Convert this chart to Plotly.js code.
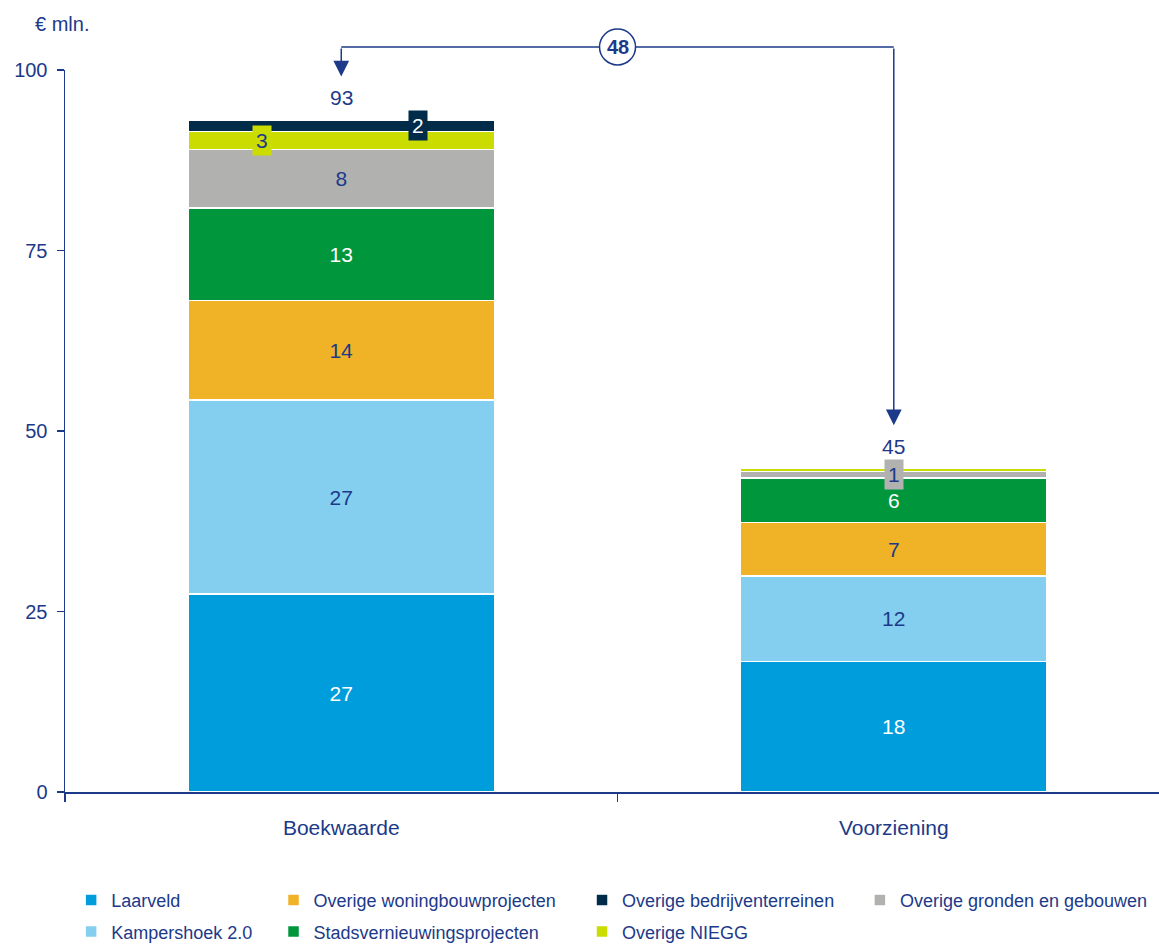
<!DOCTYPE html>
<html>
<head>
<meta charset="utf-8">
<script src="https://cdn.plot.ly/plotly-3.0.1.min.js"></script>
<style>html,body{margin:0;padding:0;background:#fff;}#chart{width:1159px;height:944px;}</style>
</head>
<body>
<div id="chart"></div>
<script>
// ---- data (values in € mln.) ----
var categories = ['Boekwaarde', 'Voorziening'];
var laarveld = [27.4, 18.1];
var kampershoek = [26.9, 11.8];
var woningbouw = [13.8, 7.4];
var stadsvernieuwing = [12.8, 6.2];
var gronden = [8.1, 0.9];
var niegg = [2.5, 0.4];
var bedrijven = [1.6, 0.0];
var yTicks = [0, 25, 50, 75, 100];
var unitLabel = '€ mln.';

// ---- styling ----
var NAVY = '#1c3a89';
var FONT = 'Liberation Sans, Arial, sans-serif';
var series = [
  {name: 'Laarveld', y: laarveld, color: '#009ddc', text: '#ffffff', legend: 'legend', rank: 1},
  {name: 'Kampershoek 2.0', y: kampershoek, color: '#84cfef', text: NAVY, legend: 'legend', rank: 2},
  {name: 'Overige woningbouwprojecten', y: woningbouw, color: '#f0b226', text: NAVY, legend: 'legend2', rank: 3},
  {name: 'Stadsvernieuwingsprojecten', y: stadsvernieuwing, color: '#00963c', text: '#ffffff', legend: 'legend2', rank: 4},
  {name: 'Overige gronden en gebouwen', y: gronden, color: '#b1b2b0', text: NAVY, legend: 'legend4', rank: 7, boxDx: 0},
  {name: 'Overige NIEGG', y: niegg, color: '#cbdc00', text: NAVY, legend: 'legend3', rank: 6, boxDx: -0.143},
  {name: 'Overige bedrijventerreinen', y: bedrijven, color: '#002b49', text: '#ffffff', legend: 'legend3', rank: 5, boxDx: 0.138}
];

var traces = [];
var annotations = [];
var cum = categories.map(function(){ return 0; });

series.forEach(function(s, si) {
  var txt = s.y.map(function(v, i) {
    if (v >= 4) return String(Math.round(v));
    if (v >= 0.5) {
      annotations.push({
        x: i + (s.boxDx || 0), y: cum[i] + v / 2, xref: 'x', yref: 'y',
        xanchor: 'center', yanchor: 'middle',
        text: String(Math.round(v)), showarrow: false,
        bgcolor: s.color, borderpad: 3,
        font: {family: FONT, size: 21, color: s.text}
      });
    }
    return '';
  });
  s.y.forEach(function(v, i){ cum[i] += v; });
  traces.push({
    type: 'bar', x: categories, y: s.y, name: s.name,
    marker: {color: s.color, line: {color: '#ffffff', width: 1.5}},
    text: txt, textposition: 'inside', insidetextanchor: 'middle', textangle: 0,
    textfont: {family: FONT, size: 21, color: s.text},
    hoverinfo: 'skip', legend: s.legend, legendrank: s.rank, legendgroup: 'g' + si
  });
});

// totals
cum.forEach(function(t, i) {
  annotations.push({
    x: i, y: t, xref: 'x', yref: 'y', xanchor: 'center', yanchor: 'bottom', yshift: 9,
    text: String(Math.round(t)), showarrow: false,
    font: {family: FONT, size: 21, color: NAVY}
  });
});

// difference bracket
var lineY = 103.2;
cum.forEach(function(t, i) {
  annotations.push({
    x: i, y: t + 6, xref: 'x', yref: 'y', axref: 'x', ayref: 'y', ax: i, ay: lineY,
    text: '', showarrow: true, arrowhead: 2, arrowsize: 2.1, arrowwidth: 1.5, arrowcolor: NAVY
  });
});
var diff = Math.round(cum[0] - cum[1]);
annotations.push({
  x: 0.5, y: lineY / 100, xref: 'x', yref: 'paper', xanchor: 'center', yanchor: 'middle',
  text: '<b>' + diff + '</b>', showarrow: false, font: {family: FONT, size: 20, color: NAVY}
});
annotations.push({
  x: -0.029, y: 1.064, xref: 'paper', yref: 'paper', xanchor: 'left', yanchor: 'middle',
  text: unitLabel, showarrow: false, font: {family: FONT, size: 20, color: NAVY}
});

var shapes = [
  {type: 'line', xref: 'x', yref: 'paper', x0: 0, x1: 1, y0: lineY / 100, y1: lineY / 100,
   line: {color: NAVY, width: 1.5}},
  {type: 'circle', xref: 'x', yref: 'paper', xsizemode: 'pixel', ysizemode: 'pixel',
   xanchor: 0.5, yanchor: lineY / 100, x0: -18, x1: 18, y0: -18, y1: 18,
   fillcolor: '#ffffff', line: {color: NAVY, width: 1.5}}
];

function legendAt(x) {
  return {x: x, y: -0.1245, xanchor: 'left', yanchor: 'top', orientation: 'v',
          traceorder: 'grouped', tracegroupgap: 5, bgcolor: 'rgba(0,0,0,0)',
          font: {family: FONT, size: 18, color: NAVY}};
}

var layout = {
  width: 1159, height: 944,
  margin: {l: 65, r: 0, t: 70, b: 152, autoexpand: false},
  paper_bgcolor: '#ffffff', plot_bgcolor: '#ffffff',
  font: {family: FONT, color: NAVY},
  barmode: 'stack', bargap: 0.446,
  showlegend: true,
  legend: legendAt(0.0056),
  legend2: legendAt(0.1906),
  legend3: legendAt(0.4726),
  legend4: legendAt(0.7266),
  xaxis: {
    type: 'category', range: [-0.5, 1.48], showline: true, linecolor: NAVY, linewidth: 1.5,
    ticks: 'outside', tickson: 'boundaries', ticklen: 8, tickcolor: NAVY, tickwidth: 1.5,
    ticklabelstandoff: 16, tickfont: {family: FONT, size: 21, color: NAVY},
    showgrid: false, zeroline: false, fixedrange: true
  },
  yaxis: {
    range: [0, 100], tickvals: yTicks, showline: true, linecolor: NAVY, linewidth: 1.5,
    ticks: 'outside', ticklen: 7, tickcolor: NAVY, tickwidth: 1.5, ticklabelstandoff: 5,
    tickfont: {family: FONT, size: 20, color: NAVY},
    showgrid: false, zeroline: false, fixedrange: true
  },
  annotations: annotations,
  shapes: shapes
};

Plotly.newPlot('chart', traces, layout, {displayModeBar: false, staticPlot: true});
</script>
</body>
</html>
